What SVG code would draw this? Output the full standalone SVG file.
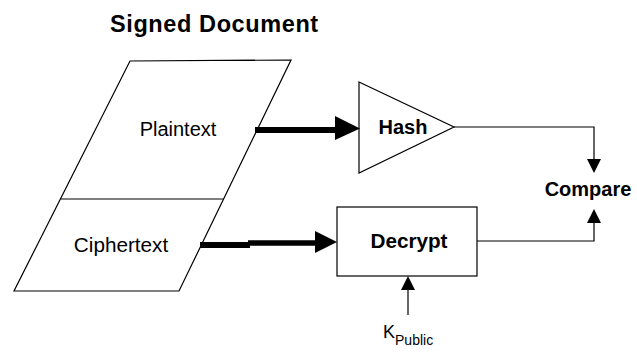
<svg xmlns="http://www.w3.org/2000/svg" width="637" height="354" viewBox="0 0 637 354">
  <defs>
    <style>
      .shape { fill: #fff; stroke: #000; stroke-width: 1.2; }
      .thin { fill: none; stroke: #000; stroke-width: 1.2; }
      .thick { fill: none; stroke: #000; stroke-width: 6; }
      .head { fill: #000; stroke: none; }
      .lbl { font-family: "Liberation Sans", Arial, sans-serif; font-size: 20px; fill: #000; }
      .bold { font-weight: bold; }
    </style>
  </defs>
  <rect width="637" height="354" fill="#fff"/>

  <text class="lbl bold" x="110" y="31.5" style="font-size:23.5px;letter-spacing:0.6px">Signed Document</text>

  <g id="document">
    <polygon class="shape" points="130,61 291,60 179,291 14,291"/>
    <line class="thin" x1="61" y1="199" x2="223" y2="199"/>
  </g>
  <g id="plaintext">
    <text class="lbl" x="178" y="136" text-anchor="middle">Plaintext</text>
  </g>
  <g id="ciphertext">
    <text class="lbl" x="121" y="252" text-anchor="middle" style="font-size:20.7px">Ciphertext</text>
  </g>

  <g id="hash">
    <polygon class="shape" points="359,82 454,127 359,173"/>
    <text class="lbl bold" x="403" y="134" text-anchor="middle">Hash</text>
  </g>

  <g id="decrypt">
    <rect class="shape" x="337" y="207" width="140" height="69"/>
    <text class="lbl bold" x="409" y="248" text-anchor="middle" style="font-size:20.7px">Decrypt</text>
  </g>

  <g id="compare">
    <text class="lbl bold" x="588" y="196" text-anchor="middle">Compare</text>
  </g>

  <g id="kpublic">
    <text class="lbl" x="383" y="337.5" style="font-size:18px">K<tspan dy="7.5" style="font-size:14px">Public</tspan></text>
  </g>

  <g id="connectors">
    <!-- Plaintext to Hash -->
    <line class="thick" x1="255" y1="130" x2="336" y2="130"/>
    <polygon class="head" points="335,116 360,128.5 335,140"/>
    <!-- Ciphertext to Decrypt -->
    <line class="thick" x1="200" y1="245" x2="250" y2="245"/>
    <line class="thick" x1="248" y1="243" x2="316" y2="243" style="stroke-width:5.5"/>
    <polygon class="head" points="315,231 337,242 315,253"/>
    <!-- Hash to Compare -->
    <polyline class="thin" points="454,127 594,127 594,160"/>
    <polygon class="head" points="587,159 601,159 594,173"/>
    <!-- Decrypt to Compare -->
    <polyline class="thin" points="477,241 594,241 594,222"/>
    <polygon class="head" points="587,223 601,223 594,209"/>
    <!-- Public key to Decrypt -->
    <line class="thin" x1="408" y1="315" x2="408" y2="289"/>
    <polygon class="head" points="401,290 415,290 408,276"/>
  </g>
</svg>
